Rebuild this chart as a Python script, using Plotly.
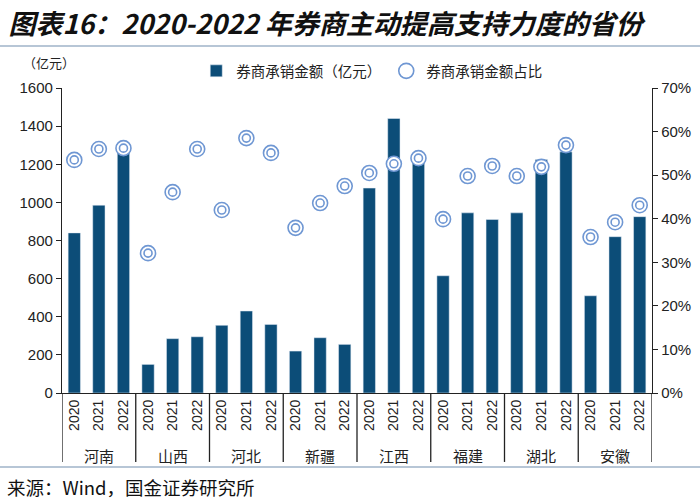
import plotly.graph_objects as go

provinces = ["河南", "山西", "河北", "新疆", "江西", "福建", "湖北", "安徽"]
years = ["2020", "2021", "2022"]
amount = [840, 985, 1270, 150, 285, 295, 355, 430, 360, 220, 290, 255,
          1075, 1440, 1210, 615, 945, 910, 945, 1225, 1265, 510, 820, 925]
share = [0.535, 0.56, 0.562, 0.321, 0.461, 0.56, 0.42, 0.585, 0.551, 0.379, 0.436, 0.475,
         0.505, 0.526, 0.539, 0.399, 0.498, 0.521, 0.498, 0.519, 0.569, 0.358, 0.392, 0.431]

n = len(amount)
xs = list(range(n))
ticktext = [years[i % 3] for i in xs]

bar_color = "#0c4d78"
ring_color = "#6f97d3"

fig = go.Figure()
fig.add_trace(go.Bar(x=xs, y=amount, name="券商承销金额（亿元）", marker_color=bar_color,
                     width=0.5, yaxis="y"))
fig.add_trace(go.Scatter(x=xs, y=share, name="券商承销金额占比", mode="markers", yaxis="y2",
                         marker=dict(symbol="circle", size=15, color="white",
                                     line=dict(color=ring_color, width=1.6))))
fig.add_trace(go.Scatter(x=xs, y=share, mode="markers", yaxis="y2", showlegend=False,
                         hoverinfo="skip",
                         marker=dict(symbol="circle", size=8, color="white",
                                     line=dict(color=ring_color, width=1.6))))

shapes = []
ngroups = len(provinces)
for i in range(ngroups + 1):
    shapes.append(dict(type="line", xref="x", yref="paper", x0=3 * i - 0.5, x1=3 * i - 0.5,
                       y0=0, y1=-0.226, line=dict(color="#222222", width=1.3)))
for yy in (1.1377, -0.2426):
    shapes.append(dict(type="line", xref="paper", yref="paper", x0=-0.106, x1=1.082,
                       y0=yy, y1=yy, line=dict(color="#9fb3c8", width=1.5)))

annotations = []
for i, p in enumerate(provinces):
    annotations.append(dict(x=3 * i + 1, y=-0.205, xref="x", yref="paper", text=p,
                            showarrow=False, yanchor="middle",
                            font=dict(family="Noto Sans CJK SC", size=15, color="#222222")))
annotations.append(dict(x=-0.022, y=1.085, xref="paper", yref="paper", text="（亿元）",
                        showarrow=False, xanchor="center", yanchor="middle",
                        font=dict(family="Noto Sans CJK SC", size=13, color="#222222")))
annotations.append(dict(x=-0.097, y=-0.308, xref="paper", yref="paper",
                        text="来源：Wind，国金证券研究所", showarrow=False,
                        xanchor="left", yanchor="middle",
                        font=dict(family="Noto Sans CJK SC", size=18.5, color="#111111")))

fig.update_layout(
    width=700, height=503,
    margin=dict(l=62, r=48, t=88, b=110),
    paper_bgcolor="white", plot_bgcolor="white",
    title=dict(text="图表16：2020-2022 年券商主动提高支持力度的省份",
               x=0.012, xanchor="left", xref="container",
               y=0.952, yanchor="middle", yref="container",
               font=dict(family="Noto Sans CJK SC", size=27, color="#111111",
                         style="italic", weight="bold")),
    showlegend=True,
    legend=dict(orientation="h", x=0.525, xanchor="center", y=1.056, yanchor="middle",
                font=dict(family="Noto Sans CJK SC", size=14.5, color="#222222"),
                bgcolor="rgba(0,0,0,0)", itemwidth=30, tracegroupgap=0),
    bargap=0.5,
    xaxis=dict(range=[-0.5, n - 0.5], tickvals=xs, ticktext=ticktext, tickangle=-90,
               showline=True, linecolor="#222222", linewidth=1.3, ticks="",
               showgrid=False, zeroline=False, automargin=False,
               tickfont=dict(family="Liberation Sans", size=14, color="#222222")),
    yaxis=dict(range=[0, 1600], dtick=200, showline=True, linecolor="#222222", linewidth=1.3,
               ticks="outside", ticklen=5, tickcolor="#222222", showgrid=False, zeroline=False,
               automargin=False,
               tickfont=dict(family="Liberation Sans", size=15, color="#222222")),
    yaxis2=dict(range=[0, 0.7], dtick=0.1, tickformat=".0%", overlaying="y", side="right",
                showline=True, linecolor="#222222", linewidth=1.3, ticks="outside", ticklen=5,
                tickcolor="#222222", showgrid=False, zeroline=False, automargin=False,
                tickfont=dict(family="Liberation Sans", size=15, color="#222222")),
    shapes=shapes, annotations=annotations,
)

fig.write_html("out.html", config={"displayModeBar": False},
               post_script="document.body.style.margin='0';document.body.style.padding='0';")
